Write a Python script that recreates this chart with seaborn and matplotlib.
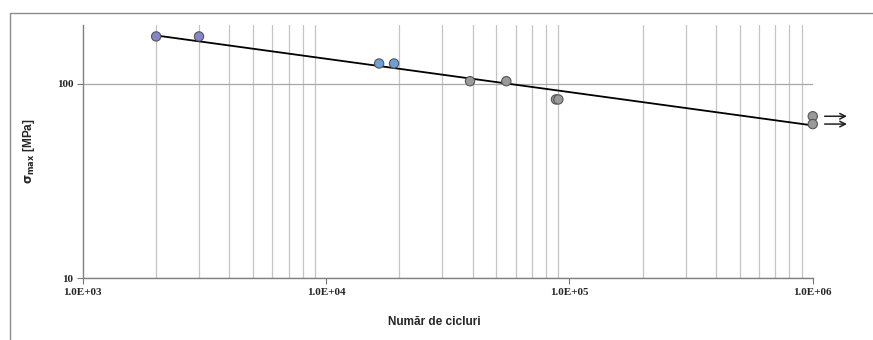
import numpy as np
import pandas as pd
import seaborn as sns
import matplotlib.pyplot as plt
from matplotlib.patches import Rectangle

# data
cycles = [2.0e3, 3.0e3, 1.65e4, 1.9e4, 3.9e4, 5.5e4, 8.8e4, 9.0e4, 1.0e6, 1.0e6]
stress = [175, 175, 127, 127, 103, 103, 83, 83, 68, 62]
group = ['a', 'a', 'b', 'b', 'c', 'c', 'c', 'c', 'c', 'c']
fit_x = [2.0e3, 1.0e6]
fit_y = [177, 61]
runout_y = [68, 62]

df = pd.DataFrame({'N': cycles, 'S': stress, 'g': group})
fit = pd.DataFrame({'N': fit_x, 'S': fit_y})

sns.set_style('white')
plt.rcParams['font.family'] = ['Liberation Sans', 'DejaVu Sans']

fig = plt.figure(figsize=(8.73, 3.4), dpi=100)
ax = fig.add_axes([0.095, 0.182, 0.836, 0.744])

sns.lineplot(data=fit, x='N', y='S', color='black', lw=1.3, ax=ax, zorder=3)
sns.scatterplot(data=df, x='N', y='S', hue='g',
                palette={'a': '#8585cc', 'b': '#6e9fd6', 'c': '#9a9a9a'},
                edgecolor='#555555', linewidth=0.8, s=45, legend=False, ax=ax, zorder=4)
for c in ax.collections:
    c.set_clip_on(False)

ax.set_xscale('log')
ax.set_yscale('log')
ax.set_xlim(1e3, 1e6)
ax.set_ylim(10, 200)

# vertical grid only on minor ticks, horizontal on major
ax.xaxis.grid(True, which='minor', color='#c4c4c4', lw=0.9)
ax.xaxis.grid(False, which='major')
ax.yaxis.grid(True, which='major', color='#a8a8a8', lw=0.9)
ax.yaxis.grid(False, which='minor')

ax.set_xticks([1e3, 1e4, 1e5, 1e6])
ax.set_xticklabels(['1.0E+03', '1.0E+04', '1.0E+05', '1.0E+06'],
                   family='Liberation Serif', fontsize=8, fontweight='bold')
ax.set_yticks([10, 100])
ax.set_yticklabels(['10', '100'], family='Liberation Serif', fontsize=8, fontweight='bold')
ax.tick_params(axis='y', which='minor', left=False)
ax.tick_params(axis='x', which='minor', bottom=False)
ax.tick_params(axis='both', which='major', length=4, width=0.8, color='#777777',
               direction='out', bottom=True, left=True, pad=3)

for s in ['top', 'right']:
    ax.spines[s].set_visible(False)
for s in ['left', 'bottom']:
    ax.spines[s].set_color('#808080')
    ax.spines[s].set_linewidth(1.0)

ax.set_xlabel('Număr de cicluri', fontsize=8.5, fontweight='bold')
ax.xaxis.set_label_coords(0.482, -0.15)
ax.set_ylabel(r'$\mathbf{\sigma_{max}}$ [MPa]', fontsize=8.5, fontweight='bold', labelpad=14)

# run-out arrows
for y in runout_y:
    ax.annotate('', xy=(1.42e6, y), xytext=(1.09e6, y), annotation_clip=False,
                arrowprops=dict(arrowstyle='->', color='#222222', lw=1.1))

# outer frame
fig.patches.append(Rectangle((0.012, -0.01), 0.99, 0.972, transform=fig.transFigure,
                             fill=False, edgecolor='#8c8c8c', lw=1.0))

fig.savefig('out.png', dpi=100)
